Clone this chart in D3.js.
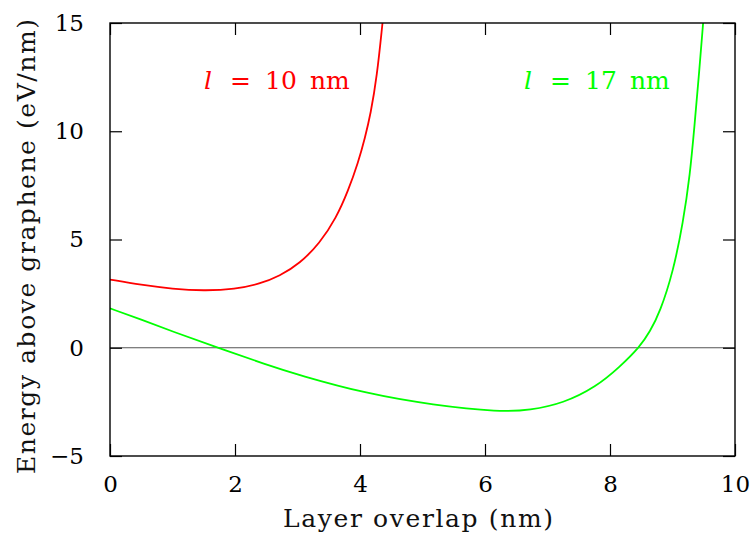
<!DOCTYPE html>
<html>
<head>
<meta charset="utf-8">
<script src="https://cdn.jsdelivr.net/npm/d3@7"></script>
<style>
  body { margin: 0; background: #fff; }
</style>
</head>
<body>
<svg id="chart"></svg>
<script>
// l = 10 nm curve
const overlap10 = [0, 0.5, 1, 1.5, 2, 2.4, 2.715, 3.035, 3.355, 3.62, 3.81, 3.97, 4.08, 4.17, 4.27, 4.36];
const energy10  = [3.15, 2.9, 2.72, 2.63, 2.7, 2.95, 3.31, 3.89, 4.82, 6.0, 7.25, 8.55, 9.7, 10.8, 12.5, 15];

// l = 17 nm curve
const overlap17 = [0, 0.5, 1, 1.73, 2.5, 3.03, 4.1, 5.17, 6.24, 6.72, 7.25, 7.78, 8.15, 8.48, 8.64, 8.8, 9.01, 9.17, 9.28, 9.35, 9.42, 9.49];
const energy17  = [1.82, 1.3, 0.75, 0, -0.78, -1.27, -2.12, -2.65, -2.97, -2.88, -2.57, -1.8, -0.9, 0.05, 0.75, 1.65, 3.5, 5.8, 8.0, 10.2, 12.5, 15];

const xTicks = [0, 2, 4, 6, 8, 10];
const yTicks = [-5, 0, 5, 10, 15];

const seriesNames = ["10", "17"];
const seriesColors = ["#ff0000", "#00ff00"];

const fontStack = "'DejaVu Serif', 'Liberation Serif', 'Noto Serif', serif";

const width = 751, height = 539;
const margin = {top: 23, right: 16, bottom: 83, left: 110};

const svg = d3.select("#chart")
    .attr("width", width)
    .attr("height", height);

const x = d3.scaleLinear()
    .domain([0, 10])
    .range([margin.left, width - margin.right]);

const y = d3.scaleLinear()
    .domain([-5, 15])
    .range([height - margin.bottom, margin.top]);

const tickLen = 12;

// clip curves to the frame
svg.append("clipPath")
    .attr("id", "plot-clip")
  .append("rect")
    .attr("x", x(0))
    .attr("y", y(15))
    .attr("width", x(10) - x(0))
    .attr("height", y(-5) - y(15));

// zero line
svg.append("line")
    .attr("x1", x(0))
    .attr("x2", x(10))
    .attr("y1", y(0))
    .attr("y2", y(0))
    .attr("stroke", "#555")
    .attr("stroke-width", 1.2);

// curves
const line = d3.line()
    .x(d => x(d[0]))
    .y(d => y(d[1]))
    .curve(d3.curveBasis);

const series = [
  d3.zip(overlap10, energy10),
  d3.zip(overlap17, energy17)
];

svg.append("g")
    .attr("clip-path", "url(#plot-clip)")
  .selectAll("path")
    .data(series)
  .join("path")
    .attr("fill", "none")
    .attr("stroke", (d, i) => seriesColors[i])
    .attr("stroke-width", 1.8)
    .attr("d", line);

// axes, ticks pointing inward on all four sides
const axisBottom = d3.axisBottom(x).tickValues(xTicks).tickSizeInner(-tickLen).tickSizeOuter(0).tickPadding(20);
const axisTop = d3.axisTop(x).tickValues(xTicks).tickSizeInner(-tickLen).tickSizeOuter(0).tickFormat("");
const axisLeft = d3.axisLeft(y).tickValues(yTicks).tickSizeInner(-tickLen).tickSizeOuter(0).tickPadding(26)
    .tickFormat(d => d < 0 ? "\u2212" + Math.abs(d) : d);
const axisRight = d3.axisRight(y).tickValues(yTicks).tickSizeInner(-tickLen).tickSizeOuter(0).tickFormat("");

svg.append("g").attr("transform", `translate(0,${y(-5)})`).call(axisBottom);
svg.append("g").attr("transform", `translate(0,${y(15)})`).call(axisTop);
svg.append("g").attr("transform", `translate(${x(0)},0)`).call(axisLeft);
svg.append("g").attr("transform", `translate(${x(10)},0)`).call(axisRight);

svg.selectAll(".domain").remove();
svg.selectAll(".tick line").attr("stroke", "#000").attr("stroke-width", 1.2);
svg.selectAll(".tick text")
    .style("font-family", fontStack)
    .attr("font-size", 23)
    .attr("fill", "#000");

// frame
svg.append("rect")
    .attr("x", x(0))
    .attr("y", y(15))
    .attr("width", x(10) - x(0))
    .attr("height", y(-5) - y(15))
    .attr("fill", "none")
    .attr("stroke", "#000")
    .attr("stroke-width", 1.4);

// axis titles
svg.append("text")
    .attr("x", 283)
    .attr("y", 527)
    .style("font-family", fontStack)
    .attr("font-size", 25)
    .attr("textLength", 270)
    .attr("lengthAdjust", "spacing")
    .attr("fill", "#111")
    .text("Layer overlap (nm)");

svg.append("text")
    .attr("transform", "translate(35,474) rotate(-90)")
    .style("font-family", fontStack)
    .attr("font-size", 25)
    .attr("textLength", 455)
    .attr("lengthAdjust", "spacing")
    .attr("fill", "#111")
    .text("Energy above graphene (eV/nm)");

// curve labels: "l = N nm"
const labelX = [204, 524];
const partOffsets = [0, 26, 61, 106];
seriesNames.forEach((name, i) => {
  const parts = ["l", "=", name, "nm"];
  const t = svg.append("text")
      .attr("y", 89)
      .style("font-family", fontStack)
      .attr("font-size", 25)
      .attr("fill", seriesColors[i]);
  parts.forEach((p, j) => {
    t.append("tspan")
        .attr("x", labelX[i] + partOffsets[j])
        .attr("font-style", j === 0 ? "italic" : null)
        .text(p);
  });
});
</script>
</body>
</html>
